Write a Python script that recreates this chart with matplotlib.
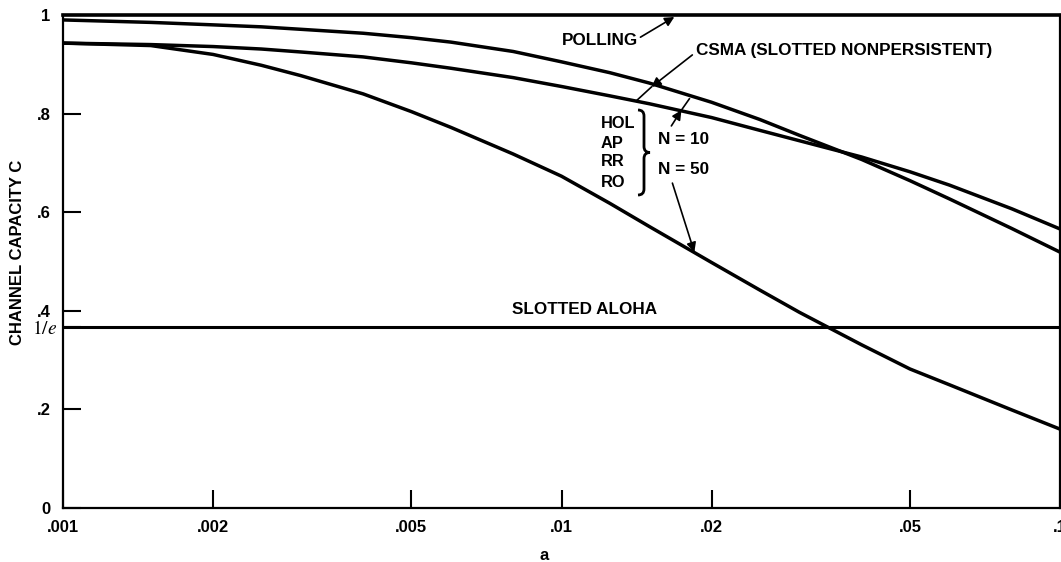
import matplotlib
matplotlib.use("Agg")
import matplotlib.pyplot as plt
from matplotlib.path import Path
from matplotlib.patches import PathPatch
from matplotlib.transforms import ScaledTranslation
import numpy as np

# ---- data ----
a_vals = [0.001, 0.0015, 0.002, 0.0025, 0.003, 0.004, 0.005, 0.006, 0.008,
          0.01, 0.0125, 0.015, 0.02, 0.025, 0.03, 0.04, 0.05, 0.06, 0.08, 0.1]
csma = [0.990, 0.985, 0.980, 0.976, 0.971, 0.963, 0.954, 0.945, 0.926,
        0.905, 0.883, 0.862, 0.823, 0.788, 0.756, 0.707, 0.664, 0.627,
        0.567, 0.519]
hol_n10 = [0.943, 0.940, 0.936, 0.931, 0.925, 0.915, 0.903, 0.892, 0.873,
           0.855, 0.836, 0.820, 0.792, 0.766, 0.745, 0.712, 0.682, 0.655,
           0.607, 0.566]
hol_n50 = [0.943, 0.938, 0.920, 0.898, 0.877, 0.840, 0.804, 0.772, 0.718,
           0.673, 0.618, 0.571, 0.498, 0.442, 0.397, 0.331, 0.282, 0.250,
           0.199, 0.160]
polling = 1.0
aloha = 1 / np.e

xticks = [0.001, 0.002, 0.005, 0.01, 0.02, 0.05, 0.1]
xticklabels = [".001", ".002", ".005", ".01", ".02", ".05", ".1"]
yticks = [0, 0.2, aloha, 0.4, 0.6, 0.8, 1.0]
yticklabels = ["0", ".2", r"$1/e$", ".4", ".6", ".8", "1"]

plt.rcParams['font.family'] = ['Liberation Sans', 'DejaVu Sans']
plt.rcParams['mathtext.fontset'] = 'stix'

W, H = 1061, 562
fig = plt.figure(figsize=(W / 100, H / 100), dpi=100)
ax = fig.add_axes([63 / W, (H - 508) / H, (1060 - 63) / W, (508 - 15) / H])

ax.set_xscale('log')
ax.set_xlim(0.001, 0.1)
ax.set_ylim(0, 1.0)

lw = 2.5
for series in (csma, hol_n10, hol_n50):
    ax.plot(a_vals, series, color='black', lw=lw, solid_capstyle='butt',
            solid_joinstyle='round')
ax.axhline(polling, color='black', lw=2.6, clip_on=False)
ax.axhline(aloha, color='black', lw=2.2)

for s in ['left', 'bottom', 'right']:
    ax.spines[s].set_linewidth(1.6)
ax.spines['top'].set_visible(False)

ax.set_xticks(xticks)
ax.set_xticklabels(xticklabels)
ax.minorticks_off()
ax.set_yticks(yticks)
ax.set_yticklabels(yticklabels)
ax.tick_params(axis='both', direction='in', length=13, width=1.5,
               labelsize=12)
ax.tick_params(axis='x', pad=9)
ax.tick_params(axis='y', pad=9)
for lab in ax.get_xticklabels() + ax.get_yticklabels():
    lab.set_fontweight('bold')
elab = ax.get_yticklabels()[2]
elab.set_fontsize(14)
elab.set_transform(elab.get_transform() +
                   ScaledTranslation(5 / 72, 0, fig.dpi_scale_trans))

fig.text(18 / W, 1 - 252 / H, "CHANNEL CAPACITY C", rotation=90,
         ha='center', va='center', fontsize=12, fontweight='bold')
fig.text(544 / W, 1 - 556 / H, "a", ha='center', va='center',
         fontsize=12, fontweight='bold')

tk = dict(fontsize=12.3, fontweight='bold', color='black')
tk2 = dict(fontsize=11.8, fontweight='bold', color='black')
aprops = dict(arrowstyle='-|>', color='black', lw=1.2, mutation_scale=14,
              shrinkA=0, shrinkB=0)

# POLLING
ax.text(0.01192, 0.949, "POLLING", ha='center', va='center', **tk)
ax.annotate("", xy=(0.01684, 0.996), xytext=(0.01440, 0.955),
            arrowprops=aprops)

# CSMA
ax.text(0.01865, 0.929, "CSMA (SLOTTED NONPERSISTENT)", ha='left',
        va='center', **tk)
ax.annotate("", xy=(0.01515, 0.854), xytext=(0.01830, 0.919),
            arrowprops=aprops)
ax.plot([0.01515, 0.01413], [0.854, 0.826], color='black', lw=1.2)

# HOL / AP / RR / RO
for lab, yv in zip(["HOL", "AP", "RR", "RO"], [0.779, 0.740, 0.702, 0.661]):
    ax.text(0.01197, yv, lab, ha='left', va='center', **tk2)

# brace drawn in pixel coordinates of the figure
def brace(xp, y0, y1, w):
    ym = (y0 + y1) / 2
    verts = [(xp - w, y0), (xp, y0), (xp, y0 + 6), (xp, ym - 6),
             (xp, ym), (xp + w, ym),
             (xp, ym), (xp, ym + 6), (xp, y1 - 6),
             (xp, y1), (xp - w, y1)]
    codes = [Path.MOVETO, Path.CURVE3, Path.CURVE3, Path.LINETO,
             Path.CURVE3, Path.CURVE3,
             Path.CURVE3, Path.CURVE3, Path.LINETO,
             Path.CURVE3, Path.CURVE3]
    verts = [(x / W, 1 - y / H) for x, y in verts]
    p = PathPatch(Path(verts, codes), transform=fig.transFigure,
                  fill=False, lw=2.0, color='black')
    fig.patches.append(p)

brace(644, 110, 195, 6)

ax.text(0.01565, 0.748, "N = 10", ha='left', va='center', **tk)
ax.text(0.01565, 0.686, "N = 50", ha='left', va='center', **tk)
ax.annotate("", xy=(0.0174, 0.807), xytext=(0.01661, 0.775),
            arrowprops=aprops)
ax.plot([0.0174, 0.01805], [0.807, 0.830], color='black', lw=1.2)
ax.annotate("", xy=(0.01847, 0.519), xytext=(0.01669, 0.659),
            arrowprops=aprops)

# SLOTTED ALOHA
ax.text(0.01112, 0.402, "SLOTTED ALOHA", ha='center', va='center', **tk)

fig.savefig("out.png", dpi=100)
